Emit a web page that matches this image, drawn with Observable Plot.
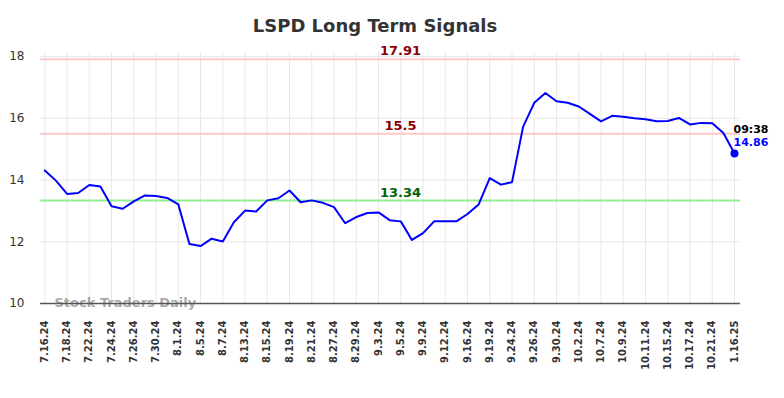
<!DOCTYPE html>
<html>
<head>
<meta charset="utf-8">
<script src="https://cdn.jsdelivr.net/npm/d3@7"></script>
<script src="https://cdn.jsdelivr.net/npm/@observablehq/plot@0.6"></script>
<style>
  html, body { margin: 0; padding: 0; background: #fff; }
  #wrap { position: relative; width: 784px; height: 398px; font-family: "DejaVu Sans", sans-serif; }
  #title { position: absolute; left: 0; width: 750px; top: 15px; text-align: center; font-size: 18px; font-weight: bold; color: #333; }
</style>
</head>
<body>
<div id="wrap">
  <div id="chart"></div>
  <div id="title">LSPD Long Term Signals</div>
</div>
<script>
const dates = ["7.16.24","7.17.24","7.18.24","7.19.24","7.22.24","7.23.24","7.24.24","7.25.24","7.26.24","7.29.24",
  "7.30.24","7.31.24","8.1.24","8.2.24","8.5.24","8.6.24","8.7.24","8.12.24","8.13.24","8.14.24",
  "8.15.24","8.16.24","8.19.24","8.20.24","8.21.24","8.26.24","8.27.24","8.28.24","8.29.24","8.30.24",
  "9.3.24","9.4.24","9.5.24","9.6.24","9.9.24","9.11.24","9.12.24","9.13.24","9.16.24","9.18.24",
  "9.19.24","9.23.24","9.24.24","9.25.24","9.26.24","9.27.24","9.30.24","10.1.24","10.2.24","10.4.24",
  "10.7.24","10.8.24","10.9.24","10.10.24","10.11.24","10.14.24","10.15.24","10.16.24","10.17.24","10.18.24",
  "10.21.24","10.22.24","1.16.25"];
const values = [14.31,13.98,13.55,13.58,13.84,13.79,13.15,13.07,13.31,13.50,
  13.48,13.42,13.21,11.93,11.86,12.10,12.01,12.63,13.01,12.98,
  13.34,13.41,13.66,13.28,13.34,13.26,13.12,12.60,12.80,12.93,
  12.95,12.70,12.66,12.06,12.28,12.66,12.66,12.66,12.90,13.21,
  14.06,13.85,13.93,15.73,16.50,16.82,16.55,16.50,16.38,16.14,
  15.90,16.08,16.05,16.00,15.97,15.90,15.91,16.01,15.80,15.85,
  15.84,15.52,14.86];
const tickLabels = ["7.16.24","7.18.24","7.22.24","7.24.24","7.26.24","7.30.24","8.1.24","8.5.24","8.7.24","8.13.24",
  "8.15.24","8.19.24","8.21.24","8.27.24","8.29.24","9.3.24","9.5.24","9.9.24","9.12.24","9.16.24",
  "9.19.24","9.24.24","9.26.24","9.30.24","10.2.24","10.7.24","10.9.24","10.11.24","10.15.24","10.17.24",
  "10.21.24","1.16.25"];
const yTicks = [10, 12, 14, 16, 18];
const redLevels = [17.91, 15.5];
const greenLevels = [13.34];
const lastTime = "09:38";

const data = dates.map((d, i) => ({date: d, value: values[i]}));
const last = data[data.length - 1];

const chart = Plot.plot({
  width: 784,
  height: 398,
  marginTop: 52,
  marginBottom: 95,
  marginLeft: 40,
  marginRight: 44,
  style: {fontFamily: "DejaVu Sans, sans-serif", background: "#fff"},
  x: {type: "point", domain: dates, range: [44.3, 734], padding: 0, round: false},
  y: {domain: [10, 18], range: [303, 56]},
  marks: [
    Plot.ruleX(tickLabels, {x: d => d, stroke: "#e8e8e8", strokeWidth: 1}),
    Plot.ruleY(yTicks, {stroke: "#e8e8e8", strokeWidth: 1}),
    Plot.axisY(yTicks, {tickSize: 0, tickPadding: 16, fontSize: 12, fill: "#333", label: null}),
    Plot.axisX(tickLabels, {tickSize: 0, tickPadding: 17, tickRotate: -90, fontSize: 10, fontWeight: "bold", fill: "#333", label: null}),
    Plot.ruleY(redLevels, {stroke: "#ffc8c8", strokeWidth: 2}),
    Plot.ruleY(greenLevels, {stroke: "#90ee90", strokeWidth: 2}),
    Plot.text(["Stock Traders Daily"], {frameAnchor: "bottom-left", lineAnchor: "middle", dx: 14, dy: -1, text: d => d, fill: "#999", fillOpacity: 0.85, fontWeight: "bold", fontSize: 13, textAnchor: "start"}),
    Plot.ruleY([10], {stroke: "#555", strokeWidth: 1.5}),
    Plot.text(redLevels, {y: d => d, text: d => String(d), frameAnchor: "middle", dx: 10, dy: -8, fill: "#8b0000", fontWeight: "bold", fontSize: 13}),
    Plot.text(greenLevels, {y: d => d, text: d => String(d), frameAnchor: "middle", dx: 10, dy: -8, fill: "#006400", fontWeight: "bold", fontSize: 13}),
    Plot.line(data, {x: "date", y: "value", stroke: "#0000ff", strokeWidth: 2}),
    Plot.dot([last], {x: "date", y: "value", r: 4, fill: "#0000ff"}),
    Plot.text([last], {x: "date", y: "value", text: () => lastTime, textAnchor: "start", dx: -1, dy: -24, fill: "#000", fontWeight: "bold", fontSize: 11}),
    Plot.text([last], {x: "date", y: "value", text: d => d.value.toFixed(2), textAnchor: "start", dx: -1, dy: -11, fill: "#0000ff", fontWeight: "bold", fontSize: 11})
  ]
});
document.getElementById("chart").appendChild(chart);
</script>
</body>
</html>
